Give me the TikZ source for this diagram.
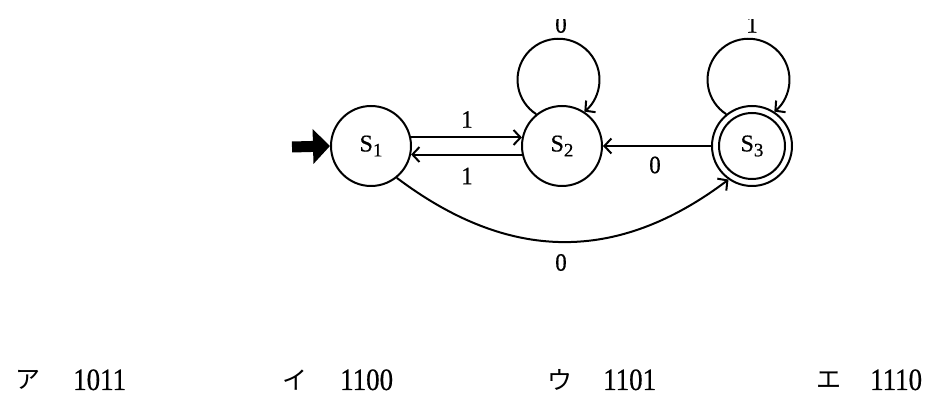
\documentclass[tikz,border=0pt]{standalone}
\usepackage{fontspec}
\setmainfont{Liberation Serif}[FakeBold=0.6]
\newfontfamily\jfont{Noto Sans CJK JP}
\usetikzlibrary{arrows.meta}
\begin{document}
\begin{tikzpicture}[x=1pt,y=1pt,
  state/.style={circle,draw,line width=2pt,minimum size=80pt,inner sep=0pt,font=\fontsize{24}{24}\selectfont},
  edge/.style={line width=2pt,-{Straight Barb[length=7pt,width=15pt]}},
  lbl/.style={font=\fontsize{25}{25}\selectfont,inner sep=0pt,xscale=0.92},
  choice/.style={font=\fontsize{31}{31}\selectfont,xscale=0.87,anchor=base west,inner sep=0pt},
  kana/.style={font=\jfont\fontsize{25}{25}\selectfont,inner sep=0pt}]
\useasboundingbox (0,0) rectangle (946,-411);
\newcommand{\stname}[1]{S\raisebox{-5pt}{\fontsize{19}{19}\selectfont #1}}
\node[state] (s1) at (371,-146) {\stname{1}};
\node[state] (s2) at (562,-146) {\stname{2}};
\node[state] (s3) at (752,-146) {\stname{3}};
\draw[line width=2pt] (s3.center) circle[radius=33];
% initial arrow
\coordinate (init) at (292,-147);
\draw[line width=11pt,-{Triangle[length=17pt,width=34pt]}] (init) -- (s1.west);
% edges
\draw[edge] (s1.12) -- (s2.168);
\draw[edge] (s2.-168) -- (s1.-12);
\draw[edge] (s3.west) -- (s2.east);
\draw[edge] (s1.-51) .. controls +(-37:140) and +(-143:140) .. (s3.-125);
\draw[edge] (s2.129) arc[start angle=237,end angle=-51,radius=41];
\draw[edge] (s3.129) arc[start angle=237,end angle=-51,radius=41];
% labels
\node[lbl] (l12) at (467,-119.5) {1};
\node[lbl] (l21) at (467,-176) {1};
\node[lbl] (l32) at (655,-165) {0};
\node[lbl] (l13) at (561,-262.5) {0};
\begin{scope}
\clip (0,-20) rectangle (946,-411);
\node[lbl] (l22) at (561,-24.5) {0};
\node[lbl] (l33) at (752,-24.5) {1};
\end{scope}
% choices
\node[kana] (ka) at (28.5,-380) {ア};
\node[choice] (ca) at (73,-390) {1011};
\node[kana] (ki) at (294.5,-380) {イ};
\node[choice] (ci) at (340,-390) {1100};
\node[kana] (ku) at (560,-380) {ウ};
\node[choice] (cu) at (603,-390) {1101};
\node[kana] (ke) at (828.5,-380) {エ};
\node[choice] (ce) at (870,-390) {1110};
\end{tikzpicture}
\end{document}
